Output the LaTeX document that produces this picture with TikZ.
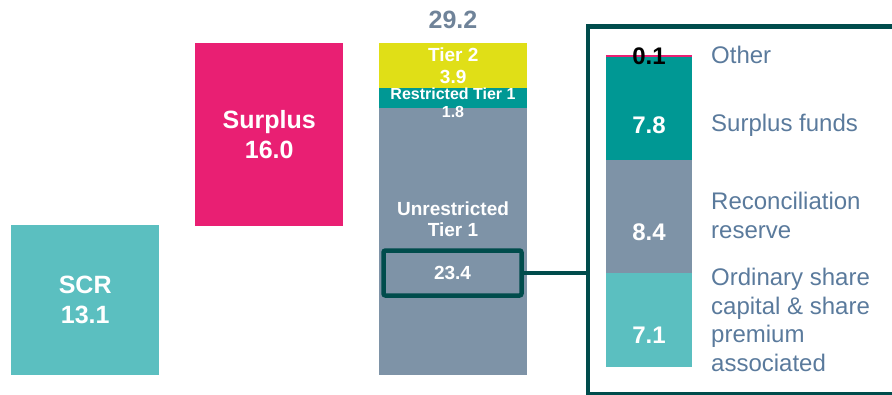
\documentclass[tikz,border=0pt]{standalone}
\usepackage{fontspec}
\setmainfont{Liberation Sans}
\usetikzlibrary{positioning,calc}
\definecolor{scrC}{HTML}{5BBFC0}
\definecolor{pinkC}{HTML}{E91F73}
\definecolor{yelC}{HTML}{E0DF17}
\definecolor{tealC}{HTML}{009894}
\definecolor{greyC}{HTML}{7E93A7}
\definecolor{frameC}{HTML}{004C4C}
\definecolor{labC}{HTML}{5A7A9C}
\definecolor{totC}{HTML}{6F8399}
\tikzstyle{blk}=[inner sep=0pt, anchor=north west, text=white, align=center]
\tikzstyle{val}=[inner sep=0pt, text=white, align=center]
\tikzstyle{lab}=[inner sep=0pt, anchor=west, text=labC, align=left, font=\fontsize{24}{29}\selectfont]

\begin{document}
\begin{tikzpicture}[x=1pt,y=-1pt]
   \clip (0,0) rectangle (892,394);
   % left blocks
   \node[blk,fill=scrC,minimum width=148pt,minimum height=150pt,font=\bfseries\fontsize{25}{30}\selectfont] (SCR) at (11,225) {SCR\\13.1};
   \node[blk,fill=pinkC,minimum width=148pt,minimum height=183pt,font=\bfseries\fontsize{25}{30}\selectfont] (Sur) at (195,43) {Surplus\\16.0};
   % own funds column
   \node[blk,fill=yelC,minimum width=148pt,minimum height=45pt,font=\bfseries\fontsize{19}{22}\selectfont] (T2) at (379,43) {Tier 2\\3.9};
   \node[blk,fill=tealC,minimum width=148pt,minimum height=20pt] (RT1) at (379,88) {};
   \node[blk,fill=greyC,minimum width=148pt,minimum height=267pt] (UT1) at (379,108) {};
   \node[val,font=\bfseries\fontsize{16}{18}\selectfont] (RT1txt) at (453,103) {Restricted Tier 1\\1.8};
   \node[val,font=\bfseries\fontsize{19}{21}\selectfont] (UT1txt) at (453,219.5) {Unrestricted\\Tier 1};
   \node[val,text=totC,font=\bfseries\fontsize{25}{30}\selectfont] (tot) at (453,20) {29.2};
   \node[val,draw=frameC,line width=4.5pt,rounded corners=2pt,minimum width=138pt,minimum height=45pt,font=\bfseries\fontsize{19}{22}\selectfont] (hl) at (452.5,273) {23.4};
   % breakdown panel
   \node[blk,draw=frameC,line width=4.5pt,minimum width=400pt,minimum height=367.5pt] (detail) at (585.5,24) {};
   \draw[frameC,line width=4.5pt] (hl.east) -- (hl.east -| detail.west);
   \node[blk,fill=pinkC,minimum width=86pt,minimum height=1.5pt] (oth) at (606,55) {};
   \node[blk,fill=tealC,minimum width=86pt,minimum height=104pt] (sf) at (606,56.5) {};
   \node[blk,fill=greyC,minimum width=86pt,minimum height=113pt] (rr) at (606,160) {};
   \node[blk,fill=scrC,minimum width=86pt,minimum height=94pt] (os) at (606,273) {};
   \node[val,text=black,font=\bfseries\fontsize{24}{28}\selectfont] (v01) at (649,56) {0.1};
   \node[val,font=\bfseries\fontsize{24}{28}\selectfont] (v78) at (649,125) {7.8};
   \node[val,font=\bfseries\fontsize{24}{28}\selectfont] (v84) at (649,232) {8.4};
   \node[val,font=\bfseries\fontsize{24}{28}\selectfont] (v71) at (649,335) {7.1};
   \node[lab] (l01) at (711,55) {Other};
   \node[lab] (l78) at (711,125) {Surplus funds};
   \node[lab] (l84) at (711,215.5) {Reconciliation\\reserve};
   \node[lab,font=\fontsize{24}{28.5}\selectfont] (l71) at (711,320) {Ordinary share\\capital \& share\\premium\\associated};
\end{tikzpicture}
\end{document}
